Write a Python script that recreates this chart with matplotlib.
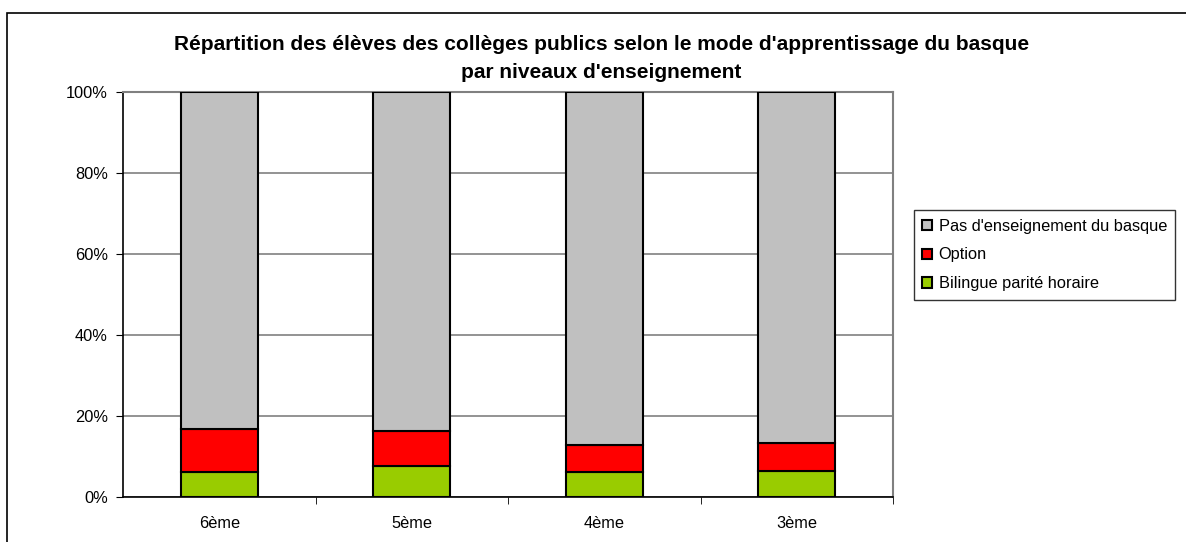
import matplotlib.pyplot as plt
from matplotlib.patches import Rectangle
from matplotlib.ticker import FuncFormatter

plt.rcParams['font.family'] = ['Liberation Sans', 'DejaVu Sans']

niveaux = ["6ème", "5ème", "4ème", "3ème"]
bilingue = [6.2, 7.6, 6.2, 6.4]
option = [10.5, 8.7, 6.6, 6.9]
pas_basque = [100 - b - o for b, o in zip(bilingue, option)]

fig = plt.figure(figsize=(11.86, 5.42), dpi=100)
ax = fig.add_axes([0.1037, 0.0836, 0.6493, 0.7472])

x = list(range(len(niveaux)))
w = 0.4
ax.bar(x, bilingue, width=w, color='#99cc00', edgecolor='black', linewidth=1.5,
       label="Bilingue parité horaire", zorder=3)
ax.bar(x, option, width=w, bottom=bilingue, color='#ff0000', edgecolor='black',
       linewidth=1.5, label="Option", zorder=3)
bottom2 = [b + o for b, o in zip(bilingue, option)]
ax.bar(x, pas_basque, width=w, bottom=bottom2, color='#c0c0c0', edgecolor='black',
       linewidth=1.5, label="Pas d'enseignement du basque", zorder=3)

ax.set_xlim(-0.5, 3.5)
ax.set_ylim(0, 100)
ax.set_yticks([0, 20, 40, 60, 80, 100])
ax.yaxis.set_major_formatter(FuncFormatter(lambda v, p: f"{int(v)}%"))
ax.yaxis.grid(True, color='#808080', linewidth=1.2, zorder=0)
ax.set_xticks(x)
ax.set_xticklabels(niveaux)
ax.set_xticks([0.5, 1.5, 2.5, 3.5], minor=True)
ax.tick_params(axis='x', which='major', length=0, pad=14, labelsize=11.8)
ax.tick_params(axis='x', which='minor', length=5, color='black')
ax.tick_params(axis='y', length=5, color='black', labelsize=11.8, pad=6)
for s in ['top', 'right']:
    ax.spines[s].set_color('#808080')
    ax.spines[s].set_linewidth(1.5)
for s in ['left', 'bottom']:
    ax.spines[s].set_color('black')
    ax.spines[s].set_linewidth(1.2)

fig.text(0.507, 1 - 45 / 542, "Répartition des élèves des collèges publics selon le mode d'apprentissage du basque",
         ha='center', va='center', fontsize=15, fontweight='bold')
fig.text(0.507, 1 - 72 / 542, "par niveaux d'enseignement",
         ha='center', va='center', fontsize=15, fontweight='bold')

handles, labels = ax.get_legend_handles_labels()
leg = fig.legend(handles[::-1], labels[::-1], loc='center left',
                 bbox_to_anchor=(914 / 1186, 1 - 255 / 542), fontsize=11.8, frameon=True,
                 fancybox=False, edgecolor='black', handlelength=0.6,
                 handleheight=0.6, handletextpad=0.4, borderpad=0.5,
                 labelspacing=0.85, borderaxespad=0)
leg.get_frame().set_linewidth(1.0)

fig.add_artist(Rectangle((7 / 1186, -0.1), 1.2, 1 - 13 / 542 + 0.1,
                         transform=fig.transFigure, fill=False,
                         edgecolor='black', linewidth=1.2))

fig.savefig("out.png", dpi=100)
